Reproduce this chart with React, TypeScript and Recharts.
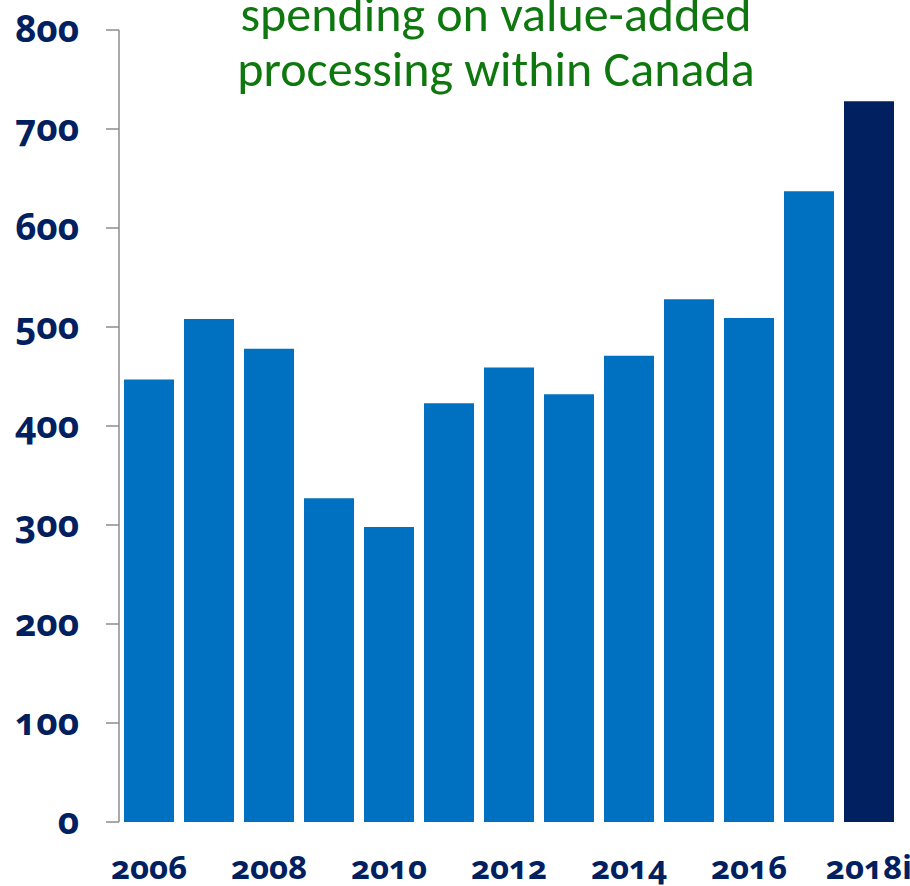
import React from 'react';
import { BarChart, Bar, XAxis, YAxis, Cell } from 'recharts';

const years = ['2006', '2007', '2008', '2009', '2010', '2011', '2012', '2013', '2014', '2015', '2016', '2017', '2018i'];
const spending = [447, 508, 478, 327, 298, 423, 459, 432, 471, 528, 509, 637, 728];
const yTicks = [0, 100, 200, 300, 400, 500, 600, 700, 800];
const titleLines = ['spending on value-added', 'processing within Canada'];

const data = years.map((year, i) => ({ year, value: spending[i] }));

const NAVY = '#002060';
const BLUE = '#0070C0';
const GREEN = '#0e780e';

const YTick = (props: any) => {
  const { x, y, payload } = props;
  return (
    <text
      x={x}
      y={y}
      dy={12}
      textAnchor="end"
      fill={NAVY}
      style={{ fontFamily: "'Open Sans', sans-serif", fontWeight: 700, fontSize: 37, fontVariantNumeric: 'oldstyle-nums' }}
    >
      {payload.value}
    </text>
  );
};

const XTick = (props: any) => {
  const { x, y, payload } = props;
  return (
    <text
      x={x}
      y={y}
      dy={0}
      textAnchor="middle"
      fill={NAVY}
      style={{ fontFamily: "'Open Sans', sans-serif", fontWeight: 700, fontSize: 33, fontVariantNumeric: 'oldstyle-nums' }}
    >
      {payload.value}
    </text>
  );
};

export default function App() {
  return (
    <div style={{ position: 'absolute', left: 0, top: 0, width: 910, height: 886, background: '#fff', overflow: 'hidden' }}>
      <BarChart
        width={910}
        height={886}
        data={data}
        margin={{ top: 30, right: 11, bottom: 0, left: 0 }}
        barCategoryGap={5}
      >
        <YAxis
          type="number"
          domain={[0, 800]}
          ticks={yTicks}
          interval={0}
          width={119}
          tickSize={13}
          tickMargin={27}
          axisLine={{ stroke: '#8c8c8c', strokeWidth: 1.5 }}
          tickLine={{ stroke: '#8c8c8c', strokeWidth: 1.5 }}
          tick={<YTick />}
        />
        <XAxis
          dataKey="year"
          height={64}
          interval={1}
          axisLine={false}
          tickLine={false}
          tickSize={0}
          tickMargin={57}
          tick={<XTick />}
        />
        <Bar dataKey="value" isAnimationActive={false}>
          {data.map((d, i) => (
            <Cell key={d.year} fill={i === data.length - 1 ? NAVY : BLUE} />
          ))}
        </Bar>
      </BarChart>
      <div
        style={{
          position: 'absolute',
          left: 196,
          width: 600,
          top: -14,
          textAlign: 'center',
          color: GREEN,
          fontFamily: "Carlito, 'Open Sans', sans-serif",
          fontSize: 50,
          lineHeight: '55px',
          whiteSpace: 'nowrap',
        }}
      >
        {titleLines.map((t) => (
          <div key={t}>{t}</div>
        ))}
      </div>
    </div>
  );
}
